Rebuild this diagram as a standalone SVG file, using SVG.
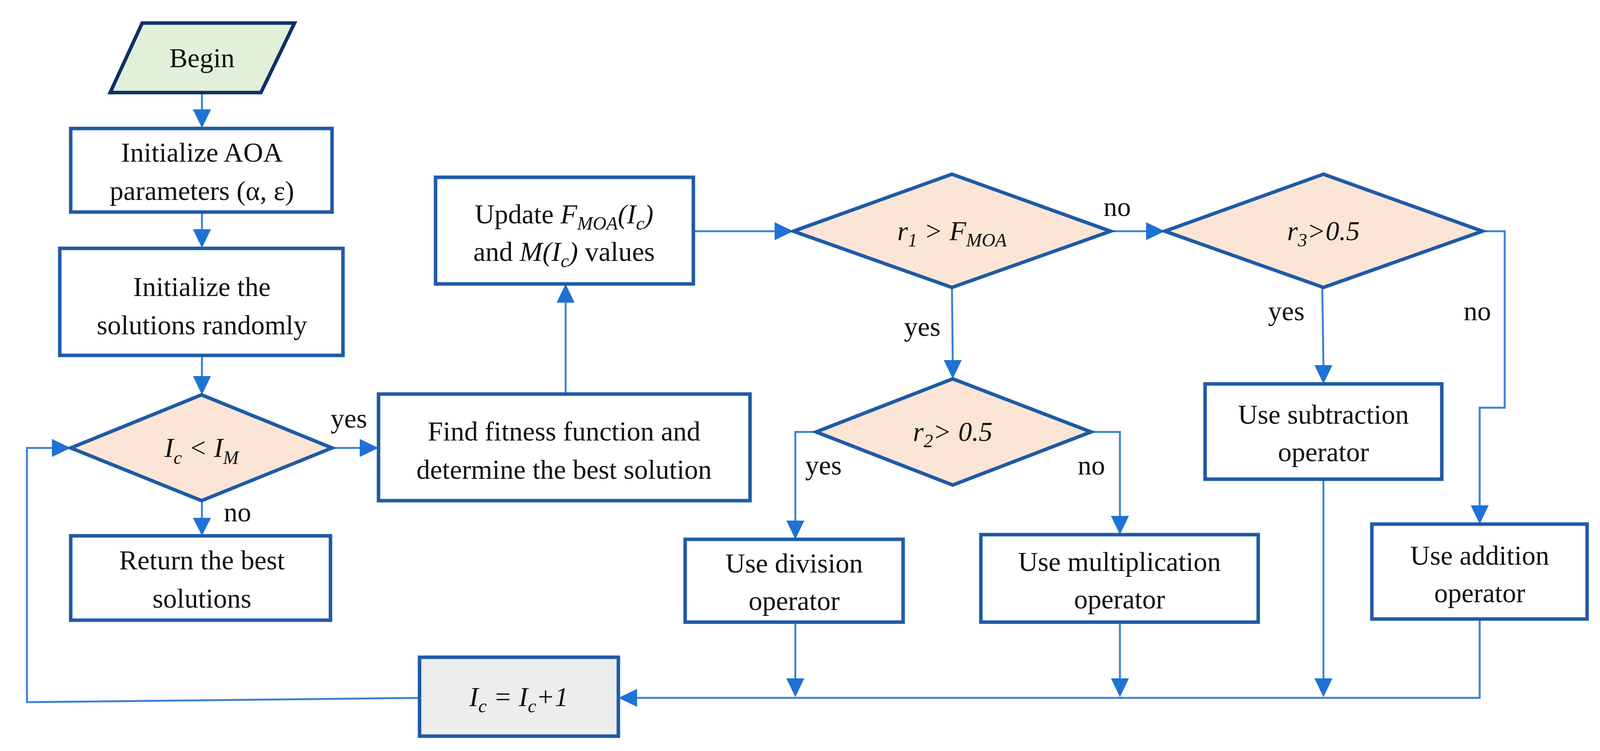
<svg xmlns="http://www.w3.org/2000/svg" width="4126" height="1923" viewBox="0 0 4126 1923">
<style>
.n{fill:#fff;stroke:#1F5AA6;stroke-width:9}
.d{fill:#FBE5D6;stroke:#1F5AA6;stroke-width:9}
.c{fill:none;stroke:#3C82D8;stroke-width:5}
text{font-family:"Liberation Serif",serif;font-size:70px;fill:#111;text-anchor:middle}
.i{font-style:italic}
.l{text-anchor:start}
</style>
<defs>
<marker id="a" markerWidth="10" markerHeight="10" refX="9" refY="5" orient="auto" markerUnits="userSpaceOnUse" viewBox="0 0 10 10" style="overflow:visible">
<path d="M0,0 L10,5 L0,10 z" fill="#1F72D4" transform="scale(5)"/>
</marker>
</defs>
<rect width="4126" height="1923" fill="#fff"/>
<g id="connectors">
<path class="c" d="M517,237 V280" />
<path d="M494,280 L540,280 L517,328 z" fill="#1F72D4"/>
<path class="c" d="M517,543 V587"/>
<path d="M494,587 L540,587 L517,635 z" fill="#1F72D4"/>
<path class="c" d="M517,910 V963"/>
<path d="M494,963 L540,963 L517,1011 z" fill="#1F72D4"/>
<path class="c" d="M517,1282 V1326"/>
<path d="M494,1326 L540,1326 L517,1372 z" fill="#1F72D4"/>
<path class="c" d="M850,1147 H921"/>
<path d="M921,1124 L921,1170 L969,1147 z" fill="#1F72D4"/>
<path class="c" d="M1448,1009 V775"/>
<path d="M1425,775 L1471,775 L1448,727 z" fill="#1F72D4"/>
<path class="c" d="M1775,592 H1983"/>
<path d="M1983,569 L1983,615 L2031,592 z" fill="#1F72D4"/>
<path class="c" d="M2843,592 H2934"/>
<path d="M2934,569 L2934,615 L2982,592 z" fill="#1F72D4"/>
<path class="c" d="M2437,736 L2439,922"/>
<path d="M2416,922 L2462,922 L2439,970 z" fill="#1F72D4"/>
<path class="c" d="M2089,1106 H2036 V1333"/>
<path d="M2013,1333 L2059,1333 L2036,1381 z" fill="#1F72D4"/>
<path class="c" d="M2793,1106 H2867 V1321"/>
<path d="M2844,1321 L2890,1321 L2867,1369 z" fill="#1F72D4"/>
<path class="c" d="M3385,736 L3388,935"/>
<path d="M3365,935 L3411,935 L3388,983 z" fill="#1F72D4"/>
<path class="c" d="M3795,592 H3852 V1044 H3788 V1294"/>
<path d="M3765,1294 L3811,1294 L3788,1342 z" fill="#1F72D4"/>
<path class="c" d="M2036,1593 V1737"/>
<path d="M2013,1737 L2059,1737 L2036,1785 z" fill="#1F72D4"/>
<path class="c" d="M2867,1593 V1737"/>
<path d="M2844,1737 L2890,1737 L2867,1785 z" fill="#1F72D4"/>
<path class="c" d="M3388,1227 V1737"/>
<path d="M3365,1737 L3411,1737 L3388,1785 z" fill="#1F72D4"/>
<path class="c" d="M3788,1585 V1787 H1631"/>
<path d="M1631,1764 L1631,1810 L1583,1787 z" fill="#1F72D4"/>
<path class="c" d="M1074,1787 L69,1798 V1147 H133"/>
<path d="M133,1124 L133,1170 L181,1147 z" fill="#1F72D4"/>
<text x="893" y="1095">yes</text>
<text x="608" y="1335">no</text>
<text x="2860" y="553">no</text>
<text x="2361" y="860">yes</text>
<text x="2108" y="1215">yes</text>
<text x="2794" y="1215">no</text>
<text x="3293" y="820">yes</text>
<text x="3782" y="820">no</text>
</g>
<g id="begin">
<polygon points="364,59 754,59 668,237 282,237" fill="#E2F0D9" stroke="#0D2F6B" stroke-width="9"/>
<text x="517" y="172">Begin</text>
</g>
<g id="init-aoa">
<rect class="n" x="181" y="329" width="669" height="214"/>
<text x="517" y="414">Initialize  AOA</text>
<text x="517" y="512">parameters (α, ε)</text>
</g>
<g id="init-sol">
<rect class="n" x="153" y="636" width="725" height="274"/>
<text x="517" y="758">Initialize  the</text>
<text x="517" y="856">solutions randomly</text>
</g>
<g id="cond-ic">
<polygon class="d" points="516,1011 850,1147 516,1282 181,1147"/>
<text x="516" y="1170" class="i">I<tspan font-size="48" dy="18">c</tspan><tspan dy="-18"> &lt; I</tspan><tspan font-size="48" dy="18">M</tspan></text>
</g>
<g id="return">
<rect class="n" x="181" y="1372" width="665" height="216"/>
<text x="517" y="1458">Return the best</text>
<text x="517" y="1556">solutions</text>
</g>
<g id="fitness">
<rect class="n" x="969" y="1009" width="951" height="273"/>
<text x="1444" y="1128">Find fitness  function and</text>
<text x="1444" y="1226">determine  the best solution</text>
</g>
<g id="update">
<rect class="n" x="1115" y="454" width="660" height="273"/>
<text x="1444" y="572">Update <tspan class="i">F</tspan><tspan class="i" font-size="48" dy="16">MOA</tspan><tspan class="i" dy="-16">(I</tspan><tspan class="i" font-size="48" dy="16">c</tspan><tspan class="i" dy="-16">)</tspan></text>
<text x="1444" y="668">and <tspan class="i">M(I</tspan><tspan class="i" font-size="48" dy="16">c</tspan><tspan class="i" dy="-16">)</tspan> values</text>
</g>
<g id="cond-r1">
<polygon class="d" points="2437,446 2843,592 2437,736 2031,592"/>
<text x="2437" y="615" class="i">r<tspan font-size="48" dy="16">1</tspan><tspan dy="-16"> &gt; F</tspan><tspan font-size="48" dy="16">MOA</tspan></text>
</g>
<g id="cond-r3">
<polygon class="d" points="3388,446 3795,592 3388,736 2982,592"/>
<text x="3388" y="615" class="i">r<tspan font-size="48" dy="16">3</tspan><tspan dy="-16">&gt;0.5</tspan></text>
</g>
<g id="cond-r2">
<polygon class="d" points="2439,970 2793,1106 2439,1242 2089,1106"/>
<text x="2439" y="1129" class="i">r<tspan font-size="48" dy="16">2</tspan><tspan dy="-16">&gt; 0.5</tspan></text>
</g>
<g id="sub">
<rect class="n" x="3085" y="983" width="606" height="244"/>
<text x="3388" y="1085">Use subtraction</text>
<text x="3388" y="1181">operator</text>
</g>
<g id="div">
<rect class="n" x="1754" y="1381" width="558" height="212"/>
<text x="2033" y="1466">Use division</text>
<text x="2033" y="1562">operator</text>
</g>
<g id="mul">
<rect class="n" x="2511" y="1369" width="710" height="224"/>
<text x="2866" y="1462">Use multiplication</text>
<text x="2866" y="1558">operator</text>
</g>
<g id="add">
<rect class="n" x="3512" y="1342" width="551" height="243"/>
<text x="3788" y="1446">Use addition</text>
<text x="3788" y="1542">operator</text>
</g>
<g id="inc">
<rect x="1074" y="1683" width="509" height="202" fill="#EDEDED" stroke="#1F5AA6" stroke-width="9"/>
<text x="1328" y="1808" class="i">I<tspan font-size="48" dy="16">c</tspan><tspan dy="-16"> = I</tspan><tspan font-size="48" dy="16">c</tspan><tspan dy="-16">+1</tspan></text>
</g>
</svg>
